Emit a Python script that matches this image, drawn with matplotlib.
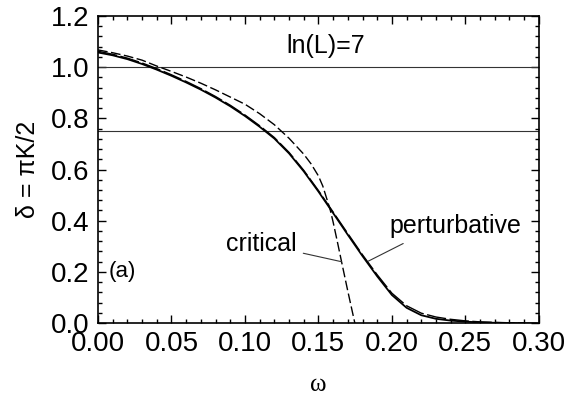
import matplotlib
matplotlib.use('Agg')
import matplotlib.pyplot as plt
from matplotlib.ticker import MultipleLocator

plt.rcParams['font.family'] = ['Liberation Sans', 'DejaVu Sans']

# perturbative (solid)
w_pert = [0.0, 0.01, 0.02, 0.03, 0.04, 0.05, 0.06, 0.07, 0.08, 0.09, 0.10, 0.11, 0.12,
          0.13, 0.14, 0.15, 0.16, 0.17, 0.18, 0.19, 0.20, 0.21, 0.22, 0.23, 0.24,
          0.25, 0.26, 0.27, 0.28, 0.29]
d_pert = [1.057, 1.046, 1.031, 1.012, 0.990, 0.966, 0.940, 0.912, 0.881, 0.847, 0.809, 0.767, 0.721,
          0.663, 0.593, 0.514, 0.430, 0.345, 0.262, 0.183, 0.110, 0.060, 0.031, 0.017, 0.010,
          0.006, 0.003, 0.0015, 0.0005, 0.0]

# second (long dash) curve, close to the solid one
w_num = [0.0, 0.01, 0.02, 0.03, 0.04, 0.05, 0.06, 0.07, 0.08, 0.09, 0.10, 0.11, 0.12,
         0.13, 0.14, 0.15, 0.16, 0.17, 0.18, 0.19, 0.20, 0.21, 0.22, 0.23, 0.24,
         0.25, 0.26, 0.27, 0.28, 0.29, 0.30]
d_num = [1.062, 1.050, 1.035, 1.016, 0.994, 0.970, 0.944, 0.916, 0.885, 0.851, 0.813, 0.771, 0.725,
         0.667, 0.597, 0.518, 0.434, 0.350, 0.267, 0.189, 0.117, 0.068, 0.039, 0.024, 0.015,
         0.009, 0.005, 0.003, 0.0015, 0.0005, 0.0]

# critical (dashed)
w_crit = [0.0, 0.01, 0.02, 0.03, 0.04, 0.05, 0.06, 0.07, 0.08, 0.09, 0.10, 0.11, 0.12,
          0.13, 0.14, 0.145, 0.15, 0.153, 0.156, 0.158, 0.160, 0.163, 0.166, 0.170, 0.1748]
d_crit = [1.067, 1.056, 1.043, 1.027, 1.004, 0.983, 0.961, 0.937, 0.911, 0.883, 0.855, 0.818, 0.775,
          0.722, 0.660, 0.622, 0.575, 0.535, 0.480, 0.443, 0.395, 0.315, 0.233, 0.125, 0.0]

hlines = [1.0, 0.75]

fig = plt.figure(figsize=(5.8, 4.07), dpi=100)
ax = fig.add_axes([0.169, 0.206, 0.760, 0.755])

for h in hlines:
    ax.axhline(h, color='#333333', lw=0.8)

ax.plot(w_num, d_num, color='black', lw=1.0, dashes=(14, 2.5))
ax.plot(w_pert, d_pert, color='black', lw=1.3)
ax.plot(w_crit, d_crit, color='black', lw=1.0, dashes=(7, 2.5))

ax.set_xlim(0, 0.30)
ax.set_ylim(0, 1.2)
ax.xaxis.set_major_locator(MultipleLocator(0.05))
ax.xaxis.set_minor_locator(MultipleLocator(0.01))
ax.yaxis.set_major_locator(MultipleLocator(0.2))
ax.yaxis.set_minor_locator(MultipleLocator(0.04))
ax.xaxis.set_major_formatter(plt.FormatStrFormatter('%.2f'))
ax.yaxis.set_major_formatter(plt.FormatStrFormatter('%.1f'))
ax.tick_params(which='both', direction='in', top=True, right=True, labelsize=20, width=1.0)
ax.tick_params(which='major', length=6, pad=6)
ax.tick_params(which='minor', length=3)
for s in ax.spines.values():
    s.set_linewidth(1.2)

ax.set_xlabel('ω', family='Liberation Serif', fontsize=18, labelpad=12)
ax.set_ylabel('δ = πK/2', fontsize=18, labelpad=8)

ax.text(0.155, 1.082, 'ln(L)=7', fontsize=18, ha='center', va='center')
ax.text(0.007, 0.2, '(a)', fontsize=16, ha='left', va='center')

# labels and their leader lines
ax.text(0.111, 0.31, 'critical', fontsize=18, ha='center', va='center')
ax.annotate('', xy=(0.1657, 0.24), xytext=(0.1397, 0.273),
            arrowprops=dict(arrowstyle='-', color='#333333', lw=0.8, shrinkA=0, shrinkB=0))
ax.text(0.243, 0.38, 'perturbative', fontsize=18, ha='center', va='center')
ax.annotate('', xy=(0.1839, 0.242), xytext=(0.2077, 0.311),
            arrowprops=dict(arrowstyle='-', color='#333333', lw=0.8, shrinkA=0, shrinkB=0))

fig.savefig('out.png', dpi=100)
